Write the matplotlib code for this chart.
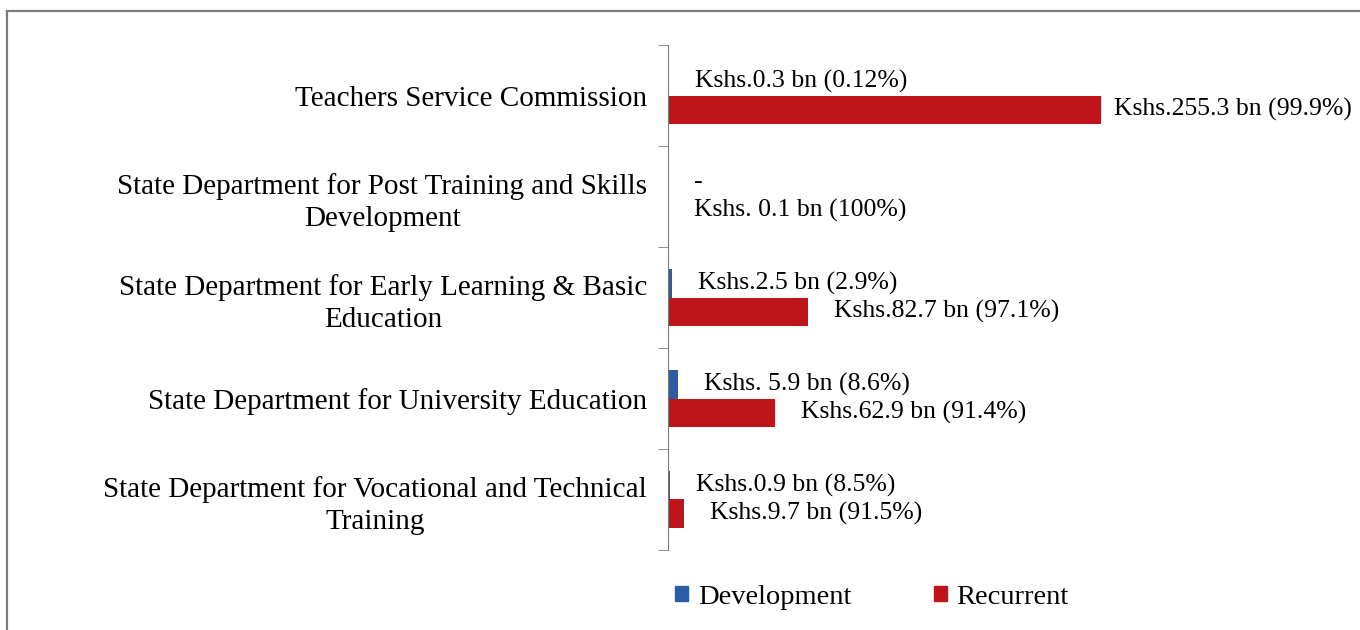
import numpy as np
from matplotlib import pyplot as plt
from matplotlib.patches import Rectangle, Patch

categories = ["Teachers Service Commission",
              "State Department for Post Training and Skills\nDevelopment",
              "State Department for Early Learning & Basic\nEducation",
              "State Department for University Education",
              "State Department for Vocational and Technical\nTraining"]
development = [0.3, 0.0, 2.5, 5.9, 0.9]
recurrent = [255.3, 0.1, 82.7, 62.9, 9.7]
dev_labels = ["Kshs.0.3 bn (0.12%)", "-", "Kshs.2.5 bn (2.9%)",
              "Kshs. 5.9 bn (8.6%)", "Kshs.0.9 bn (8.5%)"]
rec_labels = ["Kshs.255.3 bn (99.9%)", "Kshs. 0.1 bn (100%)", "Kshs.82.7 bn (97.1%)",
              "Kshs.62.9 bn (91.4%)", "Kshs.9.7 bn (91.5%)"]

blue = "#2B5CA8"
red = "#C0141B"

plt.rcParams['font.family'] = ['Liberation Serif', 'DejaVu Serif']

W, H = 1360, 630
fig = plt.figure(figsize=(W / 100, H / 100), dpi=100)
ax = fig.add_axes([668 / W, 80 / H, 509 / W, 505 / H])

y = np.arange(len(categories))
h = 0.28
ax.barh(y - h / 2, development, height=h, color=blue)
ax.barh(y + h / 2, recurrent, height=h, color=red)
ax.set_ylim(len(categories) - 0.5, -0.5)
ax.set_xlim(0, 300)

for i in range(len(categories)):
    ax.annotate(dev_labels[i], (development[i], y[i] - h / 2), xytext=(26, 0),
                textcoords='offset pixels', va='center', ha='left', fontsize=18.5)
    off = 13 if recurrent[i] == max(recurrent) else 26
    ax.annotate(rec_labels[i], (recurrent[i], y[i] + h / 2), xytext=(off, 0),
                textcoords='offset pixels', va='center', ha='left', fontsize=18.5,
                annotation_clip=False)

ax.set_yticks(y)
ax.set_yticklabels(categories, fontsize=21)
for t in ax.get_yticklabels():
    t.set_multialignment('center')
    t.set_linespacing(1.3)
ax.set_yticks(np.arange(len(categories) + 1) - 0.5, minor=True)
ax.tick_params(axis='y', which='major', length=0, pad=15)
ax.tick_params(axis='y', which='minor', length=7, color='#7a7a7a', direction='out')
ax.set_xticks([])
for s in ['top', 'right', 'bottom']:
    ax.spines[s].set_visible(False)
ax.spines['left'].set_color('#7a7a7a')

handles = [Patch(color=blue, label='Development'), Patch(color=red, label='Recurrent')]
fig.legend(handles=handles, loc='center', bbox_to_anchor=(872 / W, 33 / H), ncol=2,
           frameon=False, fontsize=20.5, handlelength=0.45, handleheight=0.45,
           handletextpad=0.35, columnspacing=2.9)

fig.patches.append(Rectangle((7 / W, -0.1), 1.2, 1 - 11 / H + 0.1, transform=fig.transFigure,
                             fill=False, edgecolor='#7a7a7a', linewidth=1.6))

fig.savefig('out.png', dpi=100)
